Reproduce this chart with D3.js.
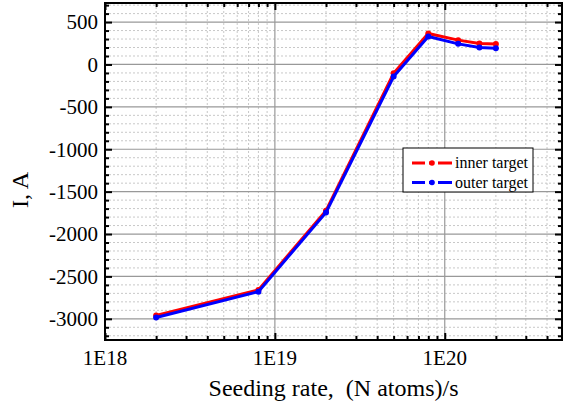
<!DOCTYPE html>
<html>
<head>
<meta charset="utf-8">
<script src="https://cdn.jsdelivr.net/npm/d3@7"></script>
<style>
  body { margin: 0; background: #fff; }
  text { font-family: "Liberation Serif", "Times New Roman", serif; fill: #000; }
</style>
</head>
<body>
<div id="chart"></div>
<script>
// seeding rate vs target current
const seeding = [2e18, 8e18, 2e19, 5e19, 8e19, 1.2e20, 1.6e20, 2e20];
const innerTarget = [-2960, -2660, -1725, -105, 365, 287, 248, 240];
const outerTarget = [-2985, -2680, -1745, -142, 330, 243, 200, 192];
const xTickVals = [1e18, 1e19, 1e20];
const xTickLabels = ["1E18", "1E19", "1E20"];
const yTickVals = [500, 0, -500, -1000, -1500, -2000, -2500, -3000];

const WD = 563, HT = 409;
const margin = { left: 105, right: 1, top: 3, bottom: 69 };
const width = WD - margin.left - margin.right;
const height = HT - margin.top - margin.bottom;

const svg = d3.select("#chart").append("svg")
  .attr("width", WD).attr("height", HT);

const g = svg.append("g").attr("transform", `translate(${margin.left},${margin.top})`);

const xs = d3.scaleLog().domain([1e18, 4.9e20]).range([0, width]);
const ys = d3.scaleLinear().domain([-3250, 725]).range([height, 0]);

// minor values
let xMinor = [];
for (let e = 18; e <= 20; e++) {
  for (let k = 2; k <= 9; k++) {
    let v = k * Math.pow(10, e);
    if (v < xs.domain()[1]) xMinor.push(v);
  }
}
let yMinor = d3.range(-3200, 725, 100).filter(v => v % 500 !== 0);

// grid
g.append("g").selectAll("line").data(xMinor).enter().append("line")
  .attr("x1", d => xs(d)).attr("x2", d => xs(d)).attr("y1", 0).attr("y2", height)
  .attr("stroke", "#c8c8c8").attr("stroke-dasharray", "2,2").attr("stroke-width", 1);
g.append("g").selectAll("line").data(yMinor).enter().append("line")
  .attr("y1", d => ys(d)).attr("y2", d => ys(d)).attr("x1", 0).attr("x2", width)
  .attr("stroke", "#c8c8c8").attr("stroke-dasharray", "2,2").attr("stroke-width", 1);
g.append("g").selectAll("line").data(xTickVals.slice(1)).enter().append("line")
  .attr("x1", d => xs(d)).attr("x2", d => xs(d)).attr("y1", 0).attr("y2", height)
  .attr("stroke", "#999").attr("stroke-width", 1.2);
g.append("g").selectAll("line").data(yTickVals).enter().append("line")
  .attr("y1", d => ys(d)).attr("y2", d => ys(d)).attr("x1", 0).attr("x2", width)
  .attr("stroke", "#999").attr("stroke-width", 1.2);

// axes with inward ticks
function tickAxis(axis, vals, size) {
  return axis.tickValues(vals).tickSize(size).tickFormat("");
}
const axStyle = sel => {
  sel.select(".domain").remove();
  sel.selectAll(".tick line").attr("stroke", "#000").attr("stroke-width", 2);
};
// bottom
g.append("g").attr("transform", `translate(0,${height})`).call(tickAxis(d3.axisBottom(xs), xMinor, -4)).call(axStyle);
g.append("g").attr("transform", `translate(0,${height})`).call(tickAxis(d3.axisBottom(xs), xTickVals, -7)).call(axStyle);
// top
g.append("g").call(tickAxis(d3.axisTop(xs), xMinor, -4)).call(axStyle);
g.append("g").call(tickAxis(d3.axisTop(xs), xTickVals, -7)).call(axStyle);
// left
g.append("g").call(tickAxis(d3.axisLeft(ys), yMinor, -4)).call(axStyle);
g.append("g").call(tickAxis(d3.axisLeft(ys), yTickVals, -7)).call(axStyle);
// right
g.append("g").attr("transform", `translate(${width},0)`).call(tickAxis(d3.axisRight(ys), yMinor, -4)).call(axStyle);
g.append("g").attr("transform", `translate(${width},0)`).call(tickAxis(d3.axisRight(ys), yTickVals, -7)).call(axStyle);

// frame
g.append("rect").attr("x", 0).attr("y", 0).attr("width", width).attr("height", height)
  .attr("fill", "none").attr("stroke", "#000").attr("stroke-width", 2);

// tick labels
g.append("g").selectAll("text").data(yTickVals).enter().append("text")
  .attr("x", -7).attr("y", d => ys(d)).attr("dy", "0.35em")
  .attr("text-anchor", "end").attr("font-size", "21px")
  .text(d => d);
g.append("g").selectAll("text").data(xTickVals).enter().append("text")
  .attr("x", d => xs(d)).attr("y", height + 25)
  .attr("text-anchor", "middle").attr("font-size", "21px")
  .text((d, i) => xTickLabels[i]);

// axis titles
svg.append("text")
  .attr("x", margin.left + width / 2).attr("y", 396)
  .attr("text-anchor", "middle").attr("font-size", "24px")
  .style("white-space", "pre")
  .text("Seeding rate,  (N atoms)/s");
svg.append("text")
  .attr("transform", "translate(28,190) rotate(-90)")
  .attr("text-anchor", "middle").attr("font-size", "24px")
  .text("I, A");

// series
const series = [
  { name: "inner target", color: "red", values: innerTarget },
  { name: "outer target", color: "blue", values: outerTarget }
];
const line = d3.line().x(d => xs(d[0])).y(d => ys(d[1]));

series.forEach(s => {
  const pts = seeding.map((x, i) => [x, s.values[i]]);
  g.append("path").datum(pts)
    .attr("d", line).attr("fill", "none")
    .attr("stroke", s.color).attr("stroke-width", 3);
  g.append("g").selectAll("circle").data(pts).enter().append("circle")
    .attr("cx", d => xs(d[0])).attr("cy", d => ys(d[1])).attr("r", 3)
    .attr("fill", s.color);
});

// legend
const lg = svg.append("g").attr("transform", "translate(403,148)");
lg.append("rect").attr("width", 130).attr("height", 44)
  .attr("fill", "#fff").attr("stroke", "#000").attr("stroke-width", 1);
series.forEach((s, i) => {
  const yy = 15 + i * 19.5;
  lg.append("line").attr("x1", 9).attr("x2", 49).attr("y1", yy).attr("y2", yy)
    .attr("stroke", s.color).attr("stroke-width", 3).attr("stroke-dasharray", "13,4,5,4,14");
  lg.append("circle").attr("cx", 29).attr("cy", yy).attr("r", 2.8).attr("fill", s.color);
  lg.append("text").attr("x", 52).attr("y", yy).attr("dy", "0.33em")
    .attr("font-size", "16px").text(s.name);
});
</script>
</body>
</html>
